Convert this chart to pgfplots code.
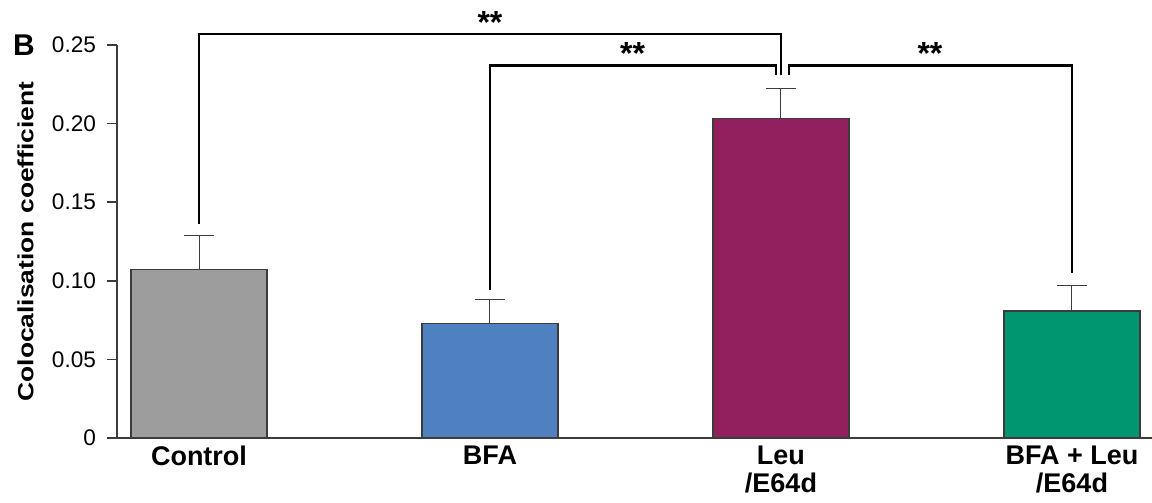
\documentclass[border=0pt]{standalone}
\usepackage{pgfplots}
\pgfplotsset{compat=1.18}
\usepackage{fontspec}
\setmainfont{Liberation Sans}
\definecolor{cgray}{RGB}{157,157,157}
\definecolor{cblue}{RGB}{79,128,191}
\definecolor{cmaroon}{RGB}{146,32,94}
\definecolor{cgreen}{RGB}{0,150,112}
\definecolor{edge}{RGB}{60,60,60}
\begin{document}
\begin{tikzpicture}
\begin{axis}[
  scale only axis, width=517.5pt, height=196.5pt,
  xmin=-0.2818, xmax=3.275, ymin=0, ymax=0.25,
  clip=false,
  axis x line*=bottom, axis y line*=left,
  axis line style={-, line width=0.8pt, color=edge},
  xtick={0,1,2,3},
  xticklabels={Control, BFA, Leu\\/E64d, BFA + Leu\\/E64d},
  x tick style={draw=none},
  xticklabel style={align=center, font=\bfseries\fontsize{13.5}{13.8}\selectfont, yshift=4.5pt},
  ytick={0,0.05,0.1,0.15,0.2,0.25},
  yticklabels={0,0.05,0.10,0.15,0.20,0.25},
  yticklabel style={font=\fontsize{11.3}{12}\selectfont, xshift=-2pt},
  tick align=outside, major tick length=5pt,
  y tick style={line width=0.8pt, color=edge},
  ylabel={\scalebox{1.2}[1]{Colocalisation coefficient}},
  ylabel style={font=\bfseries\fontsize{11}{13}\selectfont, at={(axis description cs:-0.0885,0.5)}, anchor=center},
  /pgf/number format/assume math mode=true,
]
\pgfplotsset{
  mybar/.style={ybar, bar width=68pt, bar shift=0pt, draw=edge, line width=0.6pt,
    /pgfplots/error bars/y dir=plus, /pgfplots/error bars/y explicit,
    /pgfplots/error bars/error bar style={line width=0.5pt, color=edge},
    /pgfplots/error bars/error mark options={line width=0.5pt, color=edge, mark size=7.5pt, rotate=90}},
  bracket/.style={black, line width=1.1pt, mark=none, line join=miter}
}
\addplot[mybar, fill=cgray] coordinates {(0,0.1073) +- (0,0.0217)};
\addplot[mybar, fill=cblue] coordinates {(1,0.0730) +- (0,0.0148)};
\addplot[mybar, fill=cmaroon] coordinates {(2,0.2030) +- (0,0.0195)};
\addplot[mybar, fill=cgreen] coordinates {(3,0.0808) +- (0,0.0161)};

\addplot[bracket] coordinates {(0,0.136) (0,0.257) (2.0,0.257) (2.0,0.231)};
\addplot[bracket] coordinates {(1,0.094) (1,0.237) (1.983,0.237) (1.983,0.231)};
\addplot[bracket] coordinates {(2.027,0.231) (2.027,0.237) (3,0.237) (3,0.105)};

\node[font=\bfseries\fontsize{16}{16}\selectfont, anchor=base] at (axis cs:1.0,0.2575) {**};
\node[font=\bfseries\fontsize{16}{16}\selectfont, anchor=base] at (axis cs:1.49,0.2375) {**};
\node[font=\bfseries\fontsize{16}{16}\selectfont, anchor=base] at (axis cs:2.512,0.2375) {**};
\node[font=\bfseries\fontsize{15}{15}\selectfont] at (axis description cs:-0.0899,1.0) {B};
\end{axis}
\pgfresetboundingbox
\useasboundingbox (-58.5pt,-32.5pt) rectangle (517.5pt,219pt);
\end{tikzpicture}
\end{document}
